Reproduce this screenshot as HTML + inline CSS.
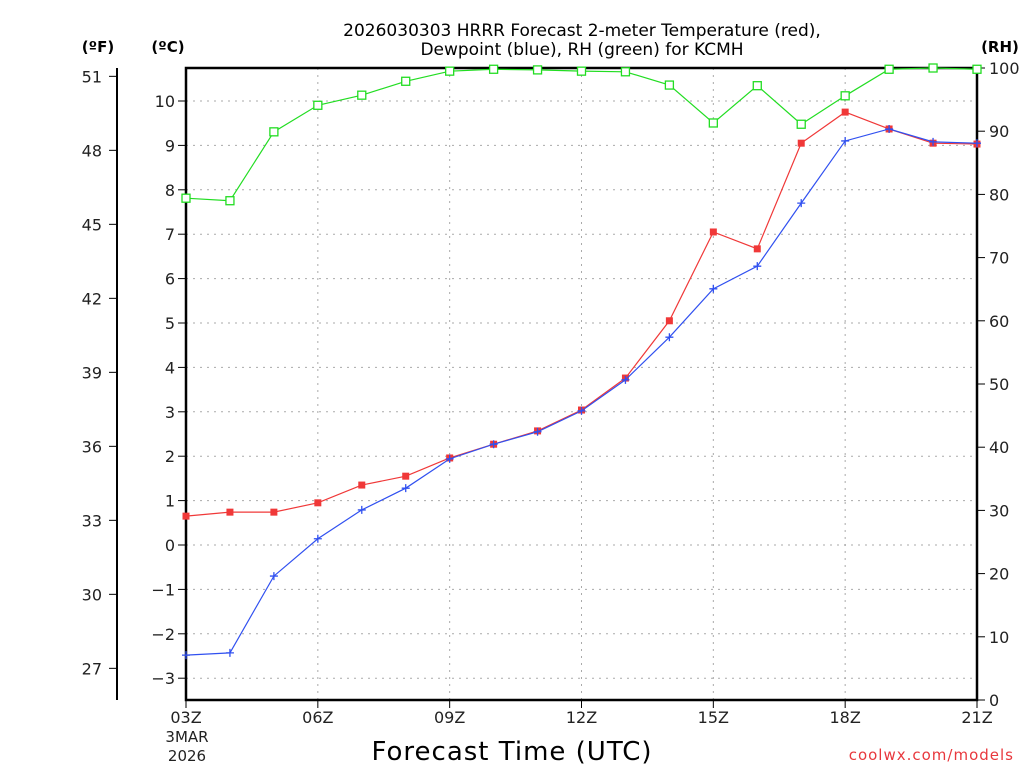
<!DOCTYPE html>
<html><head><meta charset="utf-8"><style>
body{margin:0;background:#fff;}
svg{display:block;font-family:"DejaVu Sans","Liberation Sans",sans-serif;}
</style></head><body>
<svg id="chart" width="1024" height="768" viewBox="0 0 1024 768">
<text x="582" y="36" text-anchor="middle" font-size="17">2026030303 HRRR Forecast 2-meter Temperature (red),</text>
<text x="582" y="55" text-anchor="middle" font-size="17">Dewpoint (blue), RH (green) for KCMH</text>
<text x="98" y="52" text-anchor="middle" font-size="15" font-weight="bold">(ºF)</text>
<text x="168" y="52" text-anchor="middle" font-size="15" font-weight="bold">(ºC)</text>
<text x="1000" y="52" text-anchor="middle" font-size="15" font-weight="bold">(RH)</text>
<text x="512" y="760" text-anchor="middle" font-size="26" letter-spacing="1">Forecast Time (UTC)</text>
<text x="187" y="742" text-anchor="middle" font-size="15" fill="#222">3MAR</text>
<text x="187" y="761" text-anchor="middle" font-size="15" fill="#222">2026</text>
<text x="1014" y="760" text-anchor="end" font-size="15" fill="#e8383d" letter-spacing="1">coolwx.com/models</text>
<g id="g"></g>
</svg>
<script>
const hours=[3,4,5,6,7,8,9,10,11,12,13,14,15,16,17,18,19,20,21];
const tempC=[0.65,0.74,0.74,0.95,1.35,1.55,1.96,2.27,2.57,3.04,3.76,5.05,7.05,6.67,9.05,9.75,9.37,9.05,9.03];
const dewC=[-2.48,-2.43,-0.70,0.14,0.79,1.28,1.94,2.27,2.55,3.02,3.72,4.68,5.77,6.28,7.70,9.10,9.37,9.08,9.05];
const rh=[79.4,79.0,89.9,94.1,95.7,97.9,99.5,99.8,99.7,99.5,99.4,97.3,91.3,97.2,91.1,95.6,99.8,100,99.8];
const cTicks=[-3,-2,-1,0,1,2,3,4,5,6,7,8,9,10];
const fTicks=[27,30,33,36,39,42,45,48,51];
const rhTicks=[0,10,20,30,40,50,60,70,80,90,100];
const xTicks=[3,6,9,12,15,18,21];
const xTickLabels=["03Z","06Z","09Z","12Z","15Z","18Z","21Z"];

const L=186,R=977,T=68,B=700;
const x=h=>L+(h-3)*(R-L)/18;
const yC=c=>545-c*44.4;
const yF=f=>yC((f-32)*5/9);
const yR=v=>B-v*(B-T)/100;
const g=document.getElementById('g');
const NS='http://www.w3.org/2000/svg';
function mk(t,a,txt){const e=document.createElementNS(NS,t);for(const k in a)e.setAttribute(k,a[k]);if(txt!==undefined)e.textContent=txt;g.appendChild(e);return e;}

// grid
cTicks.forEach(c=>{const e=mk('line',{x1:L,x2:R,y1:yC(c),y2:yC(c),stroke:'#aaa','stroke-dasharray':'2,5'});

});
xTicks.slice(1,-1).forEach(h=>{const e=mk('line',{x1:x(h),x2:x(h),y1:T,y2:B,stroke:'#aaa','stroke-dasharray':'2,5'});

});
// frame
const fr=mk('rect',{x:L,y:T,width:R-L,height:B-T,fill:'none',stroke:'#000','stroke-width':2.5});


// C ticks
cTicks.forEach(c=>{mk('line',{x1:L-8,x2:L,y1:yC(c),y2:yC(c),stroke:'#000'});
const t=mk('text',{x:L-11,y:yC(c)+6,'text-anchor':'end','font-size':16,fill:'#222'},c<0?'\u2212'+(-c):String(c));

});
// F axis
const fa=mk('line',{x1:117,x2:117,y1:T,y2:B,stroke:'#000','stroke-width':2});


fTicks.forEach(f=>{mk('line',{x1:109,x2:117,y1:yF(f),y2:yF(f),stroke:'#000'});
const t=mk('text',{x:102,y:yF(f)+6,'text-anchor':'end','font-size':16,fill:'#222'},String(f));

});
// RH ticks
rhTicks.forEach(v=>{mk('line',{x1:R,x2:R+8,y1:yR(v),y2:yR(v),stroke:'#000'});
const t=mk('text',{x:R+12,y:yR(v)+6,'font-size':16,fill:'#222'},String(v));

});
// X ticks
xTicks.forEach((h,i)=>{mk('line',{x1:x(h),x2:x(h),y1:B,y2:B+8,stroke:'#000'});
const t=mk('text',{x:x(h),y:B+23,'text-anchor':'middle','font-size':16,fill:'#222'},xTickLabels[i]);

});

function series(vals,yf,color,name,marker){
 const p=mk('polyline',{points:vals.map((v,i)=>x(hours[i])+','+yf(v)).join(' '),fill:'none',stroke:color,'stroke-width':1.2});
 
 
 vals.forEach((v,i)=>{const cx=x(hours[i]),cy=yf(v);let m;
  if(marker==='fill')m=mk('rect',{x:cx-3.5,y:cy-3.5,width:7,height:7,fill:color});
  else if(marker==='open')m=mk('rect',{x:cx-4,y:cy-4,width:8,height:8,fill:'#fff',stroke:color,'stroke-width':1.3});
  else m=mk('path',{d:`M${cx-4},${cy}H${cx+4}M${cx},${cy-4}V${cy+4}`,stroke:color,'stroke-width':1.3});
  
  });
}
series(rh,yR,'#22dd22','rh','open');
series(tempC,yC,'#f03838','temperature','fill');
series(dewC,yC,'#3050f0','dewpoint','plus');
</script>
</body></html>
